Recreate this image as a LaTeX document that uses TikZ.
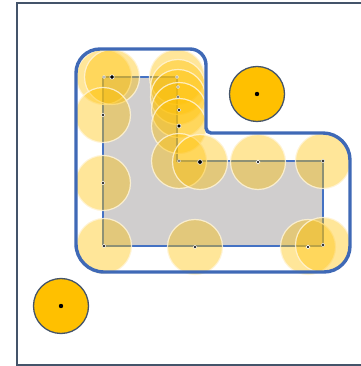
\documentclass[tikz,border=0pt]{standalone}
\definecolor{frameC}{HTML}{44546A}
\definecolor{polyC}{HTML}{D0CECE}
\definecolor{blueC}{HTML}{4472C4}
\definecolor{hullC}{HTML}{3F69B6}
\definecolor{goldC}{HTML}{FFC000}
\definecolor{ringC}{HTML}{FFF4D6}
\tikzset{
  disc/.style={fill=goldC, fill opacity=0.4, draw=ringC, draw opacity=0.85, line width=1.2pt},
  solid disc/.style={fill=goldC, draw=frameC, line width=1.3pt},
  cdot/.style={fill=black, draw=white, line width=0.6pt},
}
\begin{document}
\begin{tikzpicture}[x=1pt,y=1pt]
\useasboundingbox (0,0) rectangle (360,366);
% frame
\draw[frameC, line width=1.6pt] (362,362.7) -- (16.7,362.7) -- (16.7,1.2) -- (362,1.2);
% polygon
\path[fill=polyC, draw=blueC, line width=1.5pt] (103,289) -- (177,289) -- (177,205) -- (323,205) -- (323,120) -- (103,120) -- cycle;
% discs along the polygon
\foreach \n/\x/\y in {a/104/289, b/112/289, c/177/289, d/178/279, e/178/269, f/179/256, g/179/240, h/179/205, i/200/204, j/258/204, k/323/205, l/103/251, m/103/183, n/104/120, o/195/119, p/308/119, q/323/121} {
  \path[disc] (\x,\y) circle[radius=27.5];
}
\foreach \n/\x/\y/\r in {a/104/289/1.4, b/112/289/2.2, c/177/289/1.4, d/178/279/1.4, e/178/269/1.5, f/179/256/1.8, g/179/240/2.0, h/179/205/1.5, i/200/204/2.4, j/258/204/1.9, k/323/205/1.8, l/103/251/1.7, m/103/183/1.7, n/104/120/1.7, o/195/119/1.7, p/308/119/1.9, q/323/121/1.8} {
  \path[cdot] (\x,\y) circle[radius=\r] coordinate (c\n);
}
% swept outline
\draw[hullC, line width=3.4pt, line join=round]
  (76,122) -- (76,293) arc[start angle=180, end angle=90, radius=24]
  -- (190,317) arc[start angle=90, end angle=0, radius=16]
  -- (206,238) arc[start angle=180, end angle=270, radius=5]
  -- (323,233) arc[start angle=90, end angle=0, radius=27]
  -- (350,120) arc[start angle=0, end angle=-90, radius=26]
  -- (104,94) arc[start angle=270, end angle=180, radius=28] -- cycle;
% solid discs
\node[solid disc, circle, minimum size=55pt, inner sep=0pt] (s1) at (61,60) {};
\node[solid disc, circle, minimum size=55pt, inner sep=0pt] (s2) at (257,272) {};
\path[fill=black] (s1.center) circle[radius=2.2] (s2.center) circle[radius=2.2];
\end{tikzpicture}
\end{document}
